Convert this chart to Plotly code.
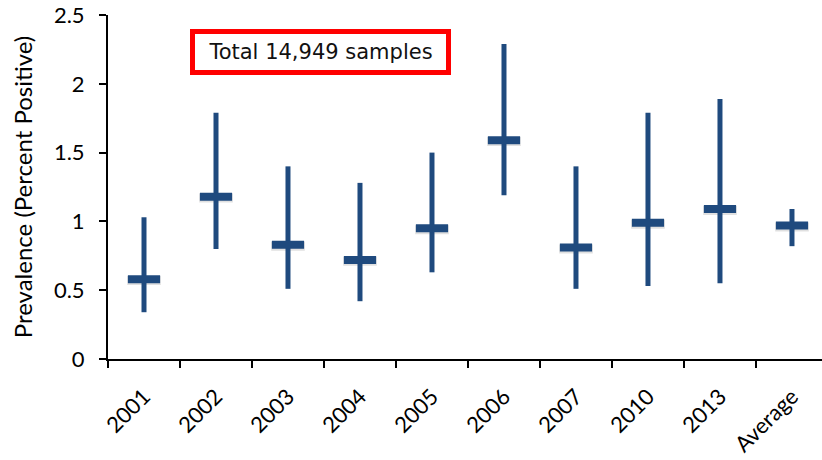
import plotly.graph_objects as go

# Survey years and prevalence (percent positive) with 95% interval bounds
years = ["2001", "2002", "2003", "2004", "2005", "2006", "2007", "2010", "2013", "Average"]
prevalence = [0.58, 1.18, 0.83, 0.72, 0.95, 1.59, 0.81, 0.99, 1.09, 0.97]
upper = [1.03, 1.79, 1.40, 1.28, 1.50, 2.29, 1.40, 1.79, 1.89, 1.09]
lower = [0.34, 0.80, 0.51, 0.42, 0.63, 1.19, 0.51, 0.53, 0.55, 0.82]

y_ticks = [0, 0.5, 1, 1.5, 2, 2.5]
y_tick_text = ["0", "0.5", "1", "1.5", "2", "2.5"]

navy = "#1F4A7E"

err_plus = [u - p for u, p in zip(upper, prevalence)]
err_minus = [p - l for p, l in zip(prevalence, lower)]

fig = go.Figure()

# soft drop shadow under each mean bar
fig.add_trace(go.Scatter(
    x=years, y=[p - 0.01 for p in prevalence],
    mode="markers",
    marker=dict(symbol="line-ew", size=24,
                line=dict(width=9, color="rgba(0,0,0,0.12)")),
    hoverinfo="skip", showlegend=False,
))

fig.add_trace(go.Scatter(
    x=years, y=prevalence,
    mode="markers",
    marker=dict(symbol="line-ew", size=23, line=dict(width=8, color=navy)),
    error_y=dict(type="data", array=err_plus, arrayminus=err_minus,
                 symmetric=False, width=0, thickness=5, color=navy),
    showlegend=False,
))

fig.update_layout(
    width=822, height=460,
    margin=dict(l=108, r=0, t=15, b=101),
    paper_bgcolor="white", plot_bgcolor="white",
    font=dict(family="Lato, Carlito, 'Liberation Sans', sans-serif", size=22, color="black"),
    xaxis=dict(
        type="category", categoryorder="array", categoryarray=years,
        range=[-0.5, 9.417],
        tickson="boundaries", ticks="outside", ticklen=7, tickwidth=2, tickcolor="black",
        tickangle=-45, tickfont=dict(size=22), ticklabelstandoff=14,
        showline=True, linecolor="black", linewidth=2,
        showgrid=False, zeroline=False,
    ),
    yaxis=dict(
        range=[0, 2.5], tickvals=y_ticks, ticktext=y_tick_text,
        ticks="outside", ticklen=7, tickwidth=2, tickcolor="black",
        tickfont=dict(size=22), ticklabelstandoff=10,
        showline=True, linecolor="black", linewidth=2,
        showgrid=False, zeroline=False,
        title=dict(text="Prevalence (Percent Positive)", font=dict(size=24), standoff=14),
    ),
    annotations=[dict(
        xref="paper", yref="paper", x=0.298, y=0.893,
        xanchor="center", yanchor="middle",
        text="Total 14,949 samples", showarrow=False,
        font=dict(family="'DejaVu Sans', 'Noto Sans', sans-serif", size=21, color="#111"),
        bgcolor="white", bordercolor="#FF0000", borderwidth=5, borderpad=3,
        width=245, height=30,
    )],
)

fig.write_html("out.html")
